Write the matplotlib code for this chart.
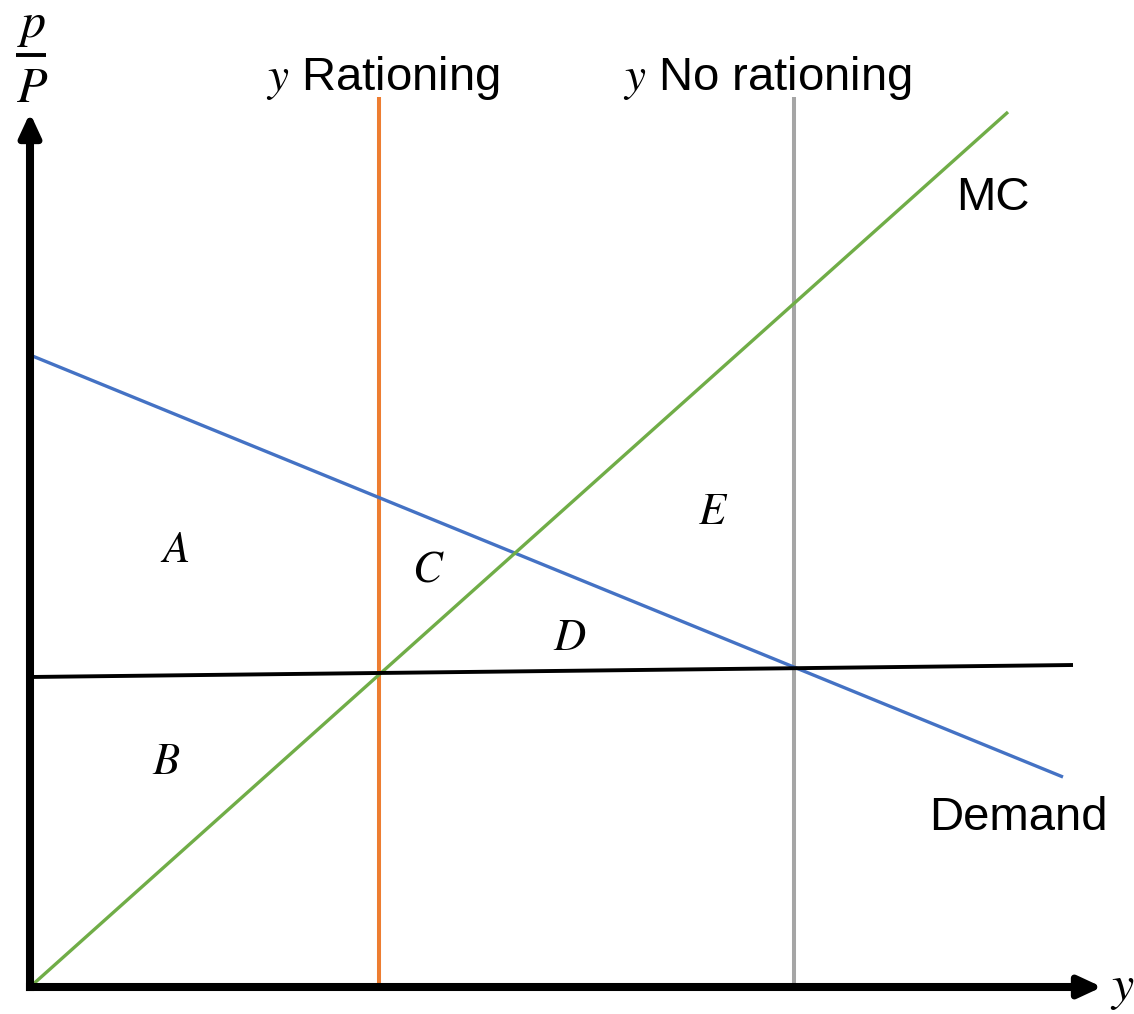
import matplotlib
matplotlib.use("Agg")
import matplotlib.pyplot as plt

plt.rcParams['font.family'] = ['Liberation Sans', 'DejaVu Sans']
plt.rcParams['mathtext.fontset'] = 'stix'

# Data (diagram units: origin at axis corner)
mc_x = [0, 978]
mc_y = [0, 875]
demand_x = [0, 1033]
demand_y = [632, 210]
price_x = [0, 1043]
price_y = [310, 322]
rationing_x = 349
no_rationing_x = 764
vline_top = 890
x_axis_end = 1072
y_axis_end = 874

area_labels = ['A', 'B', 'C', 'D', 'E']
area_x = [145, 136, 398, 540, 683]
area_y = [437, 224, 417, 349, 475]

fig = plt.figure(figsize=(11.34, 10.14), dpi=100)
ax = fig.add_axes([0, 0, 1, 1])
ax.set_xlim(-30, 1104)
ax.set_ylim(-27, 987)
ax.axis('off')

blue = '#4472C4'
orange = '#ED7D31'
green = '#70AD47'
gray = '#A5A5A5'

ax.plot([rationing_x, rationing_x], [0, vline_top], color=orange, lw=2.9, solid_capstyle='butt', zorder=2)
ax.plot([no_rationing_x, no_rationing_x], [0, vline_top], color=gray, lw=2.9, solid_capstyle='butt', zorder=2)
ax.plot(demand_x, demand_y, color=blue, lw=2.4, solid_capstyle='butt', zorder=3)
ax.plot(mc_x, mc_y, color=green, lw=2.4, solid_capstyle='butt', zorder=3)
ax.plot(price_x, price_y, color='black', lw=2.8, solid_capstyle='butt', zorder=4)

# axes lines with square corner
ax.plot([0, x_axis_end - 20], [0, 0], color='black', lw=5.8, solid_capstyle='projecting', zorder=5)
ax.plot([0, 0], [0, y_axis_end - 20], color='black', lw=5.8, solid_capstyle='projecting', zorder=5)
# arrow heads
ax.annotate('', xy=(x_axis_end, 0), xytext=(x_axis_end - 30, 0),
            arrowprops=dict(arrowstyle='-|>,head_length=1.4,head_width=0.65', lw=5.0, color='black',
                            shrinkA=0, shrinkB=0), zorder=6)
ax.annotate('', xy=(0, y_axis_end), xytext=(0, y_axis_end - 30),
            arrowprops=dict(arrowstyle='-|>,head_length=1.4,head_width=0.65', lw=5.0, color='black',
                            shrinkA=0, shrinkB=0), zorder=6)

for lab, x, y in zip(area_labels, area_x, area_y):
    ax.text(x, y, '$' + lab + '$', fontsize=32, ha='center', va='center')

ax.text(963, 789, 'MC', fontsize=34, ha='center', va='center')
ax.text(988, 169, 'Demand', fontsize=34, ha='center', va='center')
ax.text(rationing_x + 4, 909, '$y$ Rationing', fontsize=34, ha='center', va='center')
ax.text(no_rationing_x - 26, 909, '$y$ No rationing', fontsize=34, ha='center', va='center')
ax.text(1092, -2, '$y$', fontsize=36, ha='center', va='center')

# p / P fraction label for the vertical axis
ax.text(2, 961, '$p$', fontsize=36, ha='center', va='center')
ax.plot([-14, 16], [932, 932], color='black', lw=2.8, solid_capstyle='butt')
ax.text(2, 898, '$P$', fontsize=36, ha='center', va='center')

fig.savefig('out.png', dpi=100)
